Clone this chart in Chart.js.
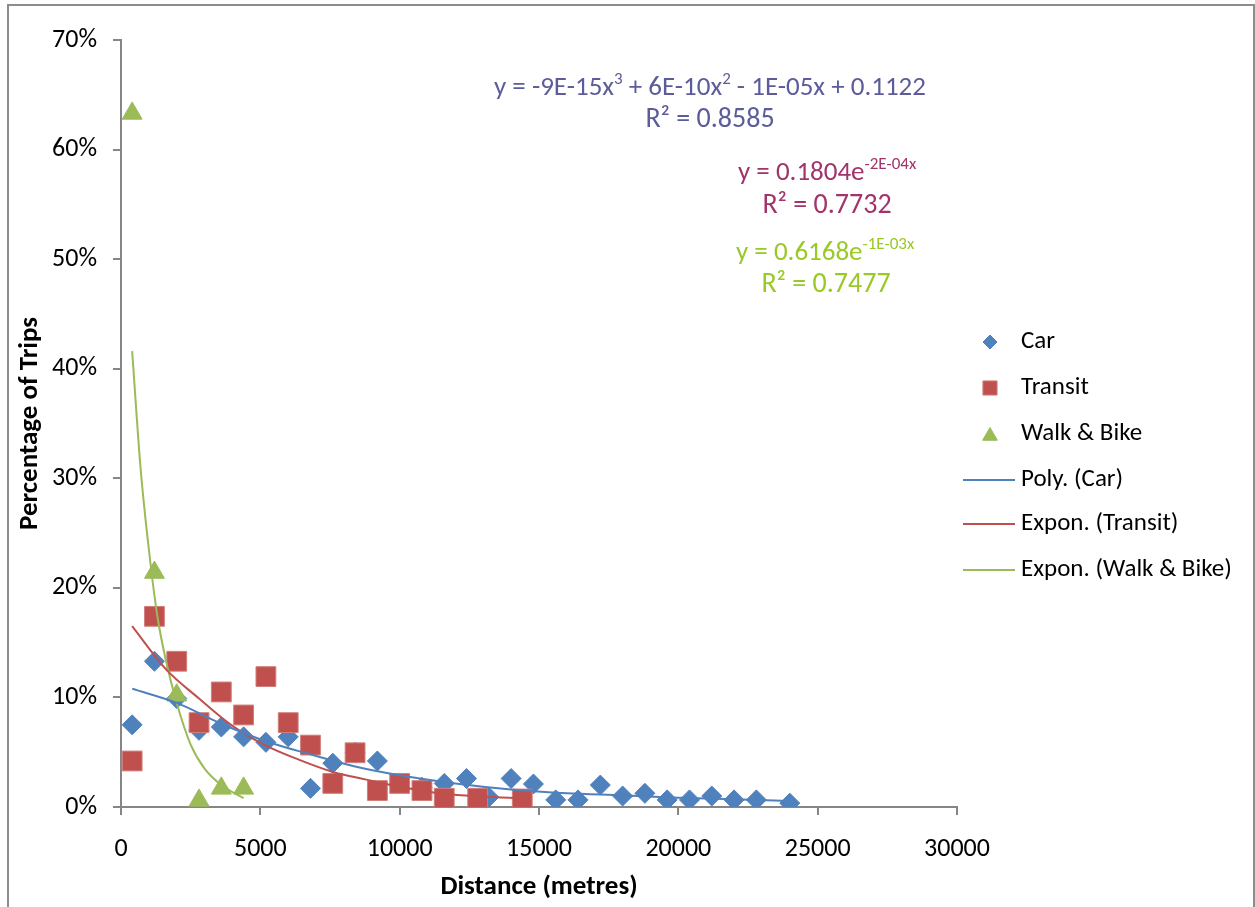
<!DOCTYPE html>
<html lang="en">
<head>
<meta charset="UTF-8">
<title>Percentage of Trips by Distance</title>
<script src="https://cdn.jsdelivr.net/npm/chart.js"></script>
<style>
    body { margin: 0; background: #fff; }
    #wrap { width: 1255px; height: 907px; position: relative; }
</style>
</head>
<body>
<div id="wrap"><canvas id="grafico" width="1255" height="907"></canvas></div>
<script>
// observed points (distance in metres, share of trips in %)
const carX = [400, 1200, 2000, 2800, 3600, 4400, 5200, 6000, 6800, 7600, 8400, 9200, 10000, 10800, 11600, 12400, 13200, 14000, 14800, 15600, 16400, 17200, 18000, 18800, 19600, 20400, 21200, 22000, 22800, 24000];
const carY = [7.5, 13.3, 9.9, 7.0, 7.3, 6.4, 5.9, 6.4, 1.7, 4.0, 5.0, 4.2, 2.2, 1.8, 2.15, 2.6, 0.9, 2.6, 2.1, 0.65, 0.65, 2.0, 1.0, 1.25, 0.65, 0.65, 1.0, 0.65, 0.65, 0.35];

const transitX = [400, 1200, 2000, 2800, 3600, 4400, 5200, 6000, 6800, 7600, 8400, 9200, 10000, 10800, 11600, 12800, 14400];
const transitY = [4.2, 17.4, 13.3, 7.7, 10.5, 8.4, 11.9, 7.7, 5.65, 2.15, 4.95, 1.5, 2.15, 1.5, 0.8, 0.8, 0.73];

const walkX = [400, 1200, 2000, 2800, 3600, 4400];
const walkY = [63.3, 21.4, 10.2, 0.6, 1.7, 1.7];

// trendlines
const carTrendX = [400, 2000, 3600, 5200, 6800, 8400, 10000, 12000, 14000, 16000, 18000, 20000, 22000, 24000];
const carTrendY = [10.8, 9.5, 7.6, 6.0, 4.8, 3.7, 2.9, 2.15, 1.6, 1.25, 1.07, 0.85, 0.7, 0.55];

const transitTrendX = [400, 1600, 2800, 4000, 5200, 6400, 7600, 8800, 10000, 11600, 13000, 14400];
const transitTrendY = [16.5, 12.6, 9.9, 7.4, 5.6, 4.3, 3.2, 2.5, 1.85, 1.2, 0.95, 0.78];

const walkTrendX = [400, 700, 1000, 1300, 1600, 2000, 2500, 3000, 3600, 4400];
const walkTrendY = [41.6, 31, 23.5, 17.5, 13.5, 9.5, 5.7, 3.5, 2.0, 0.8];

const seriesNames = ['Car', 'Transit', 'Walk & Bike', 'Poly. (Car)', 'Expon. (Transit)', 'Expon. (Walk & Bike)'];

// equation labels (text, superscript)
const eqCar = [['y = -9E-15x', false], ['3', true], [' + 6E-10x', false], ['2', true], [' - 1E-05x + 0.1122', false]];
const r2Car = 'R² = 0.8585';
const eqTransit = [['y = 0.1804e', false], ['-2E-04x', true]];
const r2Transit = 'R² = 0.7732';
const eqWalk = [['y = 0.6168e', false], ['-1E-03x', true]];
const r2Walk = 'R² = 0.7477';

const FONT = "Carlito, Lato, 'Liberation Sans', sans-serif";
const cores = { car: '#4F81BD', transit: '#C0504D', walk: '#9BBB59' };

function pares(xs, ys) {
    return xs.map((x, i) => ({ x: x, y: ys[i] }));
}

function textoRico(ctx, partes, x, y, align, size, cor) {
    const supSize = Math.round(size * 0.64);
    let total = 0;
    partes.forEach(p => {
        ctx.font = (p[1] ? supSize : size) + 'px ' + FONT;
        total += ctx.measureText(p[0]).width;
    });
    let cx = align === 'center' ? x - total / 2 : x;
    ctx.fillStyle = cor;
    ctx.textAlign = 'left';
    ctx.textBaseline = 'alphabetic';
    partes.forEach(p => {
        ctx.font = (p[1] ? supSize : size) + 'px ' + FONT;
        ctx.fillText(p[0], cx, p[1] ? y - size * 0.42 : y);
        cx += ctx.measureText(p[0]).width;
    });
}

// equations, legend and outer frame
const extras = {
    id: 'extras',
    afterDraw(chart) {
        const ctx = chart.ctx;
        ctx.save();
        ctx.strokeStyle = '#8c8c8c';
        ctx.lineWidth = 2;
        ctx.strokeRect(8, 5, 1246, 920);

        textoRico(ctx, eqCar, 710, 95, 'center', 27, '#5C5C9A');
        textoRico(ctx, [[r2Car, false]], 710, 127, 'center', 28, '#5C5C9A');
        textoRico(ctx, eqTransit, 738, 180, 'left', 27, '#A1346A');
        textoRico(ctx, [[r2Transit, false]], 827, 213, 'center', 28, '#A1346A');
        textoRico(ctx, eqWalk, 736, 260, 'left', 27, '#99C925');
        textoRico(ctx, [[r2Walk, false]], 826, 292, 'center', 28, '#99C925');

        // legend
        const ys = [342, 388, 434, 480, 524, 570];
        ctx.font = '25px ' + FONT;
        ctx.textBaseline = 'middle';
        ctx.textAlign = 'left';
        chart.data.datasets.forEach((ds, i) => {
            const y = ys[i];
            if (ds.showLine) {
                ctx.strokeStyle = ds.borderColor;
                ctx.lineWidth = 2;
                ctx.beginPath();
                ctx.moveTo(963, y);
                ctx.lineTo(1015, y);
                ctx.stroke();
            } else {
                const r = { rectRot: 7, rect: 10, triangle: 8.5 }[ds.pointStyle];
                ctx.fillStyle = ds.backgroundColor;
                ctx.strokeStyle = ds.borderColor;
                ctx.lineWidth = 1;
                Chart.helpers.drawPoint(ctx, { pointStyle: ds.pointStyle, radius: r, borderWidth: 1 }, 990, ds.pointStyle === 'triangle' ? y + 2 : y);
            }
            ctx.fillStyle = '#000';
            ctx.fillText(ds.label, 1021, y);
        });
        ctx.restore();
    }
};

const ctx = document.getElementById('grafico').getContext('2d');
new Chart(ctx, {
    type: 'scatter',
    data: {
        datasets: [
            {
                label: seriesNames[0],
                data: pares(carX, carY),
                pointStyle: 'rectRot',
                pointRadius: 10,
                backgroundColor: cores.car,
                borderColor: cores.car,
                borderWidth: 1,
                order: 3
            },
            {
                label: seriesNames[1],
                data: pares(transitX, transitY),
                pointStyle: 'rect',
                pointRadius: 14,
                backgroundColor: cores.transit,
                borderColor: '#D27E7C',
                borderWidth: 1,
                order: 2
            },
            {
                label: seriesNames[2],
                data: pares(walkX, walkY),
                pointStyle: 'triangle',
                pointRadius: 11.5,
                backgroundColor: cores.walk,
                borderColor: cores.walk,
                borderWidth: 1,
                order: 1
            },
            {
                label: seriesNames[3],
                data: pares(carTrendX, carTrendY),
                showLine: true,
                pointRadius: 0,
                borderColor: cores.car,
                borderWidth: 2,
                cubicInterpolationMode: 'monotone',
                order: 0
            },
            {
                label: seriesNames[4],
                data: pares(transitTrendX, transitTrendY),
                showLine: true,
                pointRadius: 0,
                borderColor: cores.transit,
                borderWidth: 2,
                cubicInterpolationMode: 'monotone',
                order: 0
            },
            {
                label: seriesNames[5],
                data: pares(walkTrendX, walkTrendY),
                showLine: true,
                pointRadius: 0,
                borderColor: cores.walk,
                borderWidth: 2,
                cubicInterpolationMode: 'monotone',
                order: 0
            }
        ]
    },
    options: {
        responsive: false,
        animation: false,
        layout: { padding: { left: 0, top: 40, right: 298, bottom: 0 } },
        plugins: {
            legend: { display: false },
            tooltip: { enabled: false }
        },
        scales: {
            x: {
                type: 'linear',
                min: 0,
                max: 30000,
                afterFit: s => { s.height = 100; },
                ticks: {
                    stepSize: 5000,
                    color: '#000',
                    padding: 19,
                    maxRotation: 0,
                    callback: v => String(v),
                    font: { family: FONT, size: 26 }
                },
                grid: { drawOnChartArea: false, drawTicks: true, tickLength: 8, color: '#868686', lineWidth: 2 },
                border: { color: '#868686', width: 2 },
                title: {
                    display: true,
                    text: 'Distance (metres)',
                    color: '#000',
                    padding: { top: 0, bottom: 4 },
                    font: { family: FONT, size: 27, weight: 'bold' }
                }
            },
            y: {
                min: 0,
                max: 70,
                afterFit: s => { s.width = 121; },
                ticks: {
                    stepSize: 10,
                    color: '#000',
                    padding: 16,
                    callback: v => v + '%',
                    font: { family: FONT, size: 26 }
                },
                grid: { drawOnChartArea: false, drawTicks: true, tickLength: 8, color: '#868686', lineWidth: 2 },
                border: { color: '#868686', width: 2 },
                title: {
                    display: true,
                    text: 'Percentage of Trips',
                    color: '#000',
                    padding: { top: 14, bottom: 0 },
                    font: { family: FONT, size: 27, weight: 'bold' }
                }
            }
        }
    },
    plugins: [extras]
});
</script>
</body>
</html>
